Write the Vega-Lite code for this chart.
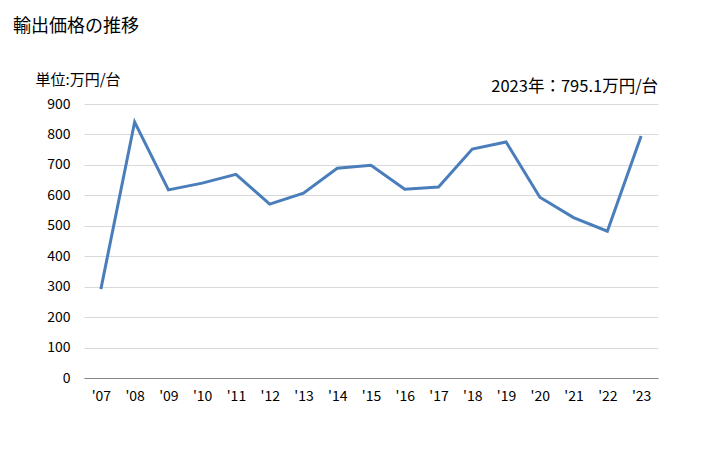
{
  "$schema": "https://vega.github.io/schema/vega-lite/v6.json",
  "autosize": {"type": "none"},
  "width": 574,
  "height": 274,
  "padding": {"left": 84, "top": 104, "right": 70, "bottom": 72},
  "background": "white",
  "config": {
    "font": "Noto Sans CJK JP",
    "view": {"stroke": null}
  },
  "title": {
    "text": "輸出価格の推移",
    "anchor": "start",
    "frame": "group",
    "dx": -71,
    "offset": 36,
    "fontSize": 18,
    "fontWeight": "normal",
    "color": "#000000"
  },
  "datasets": {
    "prices": [
      {"year": "'07", "price": 292},
      {"year": "'08", "price": 841},
      {"year": "'09", "price": 618},
      {"year": "'10", "price": 640},
      {"year": "'11", "price": 669},
      {"year": "'12", "price": 571},
      {"year": "'13", "price": 607},
      {"year": "'14", "price": 689},
      {"year": "'15", "price": 699},
      {"year": "'16", "price": 620},
      {"year": "'17", "price": 627},
      {"year": "'18", "price": 752},
      {"year": "'19", "price": 775},
      {"year": "'20", "price": 594},
      {"year": "'21", "price": 527},
      {"year": "'22", "price": 482},
      {"year": "'23", "price": 795.1}
    ],
    "note": [
      {"year": "'23", "price": 900, "label": "2023年：795.1万円/台"}
    ]
  },
  "encoding": {
    "x": {
      "field": "year",
      "type": "ordinal",
      "sort": null,
      "scale": {"type": "point", "padding": 0.5},
      "axis": {
        "title": null,
        "labelAngle": 0,
        "ticks": false,
        "domainColor": "#868686",
        "domainWidth": 1,
        "labelPadding": 11,
        "labelFontSize": 14,
        "labelColor": "#000000",
        "grid": false
      }
    },
    "y": {
      "field": "price",
      "type": "quantitative",
      "scale": {"domain": [0, 900], "nice": false},
      "axis": {
        "values": [0, 100, 200, 300, 400, 500, 600, 700, 800, 900],
        "tickCount": 10,
        "labelOverlap": false,
        "title": "単位:万円/台",
        "titleAngle": 0,
        "titleAlign": "left",
        "titleBaseline": "middle",
        "titleX": -49,
        "titleY": -25,
        "titleFontSize": 15,
        "titleFontWeight": "normal",
        "titleColor": "#000000",
        "domain": false,
        "ticks": false,
        "labelPadding": 14,
        "labelFontSize": 14,
        "labelColor": "#000000",
        "gridColor": "#d9d9d9",
        "gridWidth": 1
      }
    }
  },
  "layer": [
    {
      "data": {"name": "prices"},
      "mark": {"type": "line", "color": "#4a7ebb", "strokeWidth": 3}
    },
    {
      "data": {"name": "note"},
      "mark": {"type": "text", "align": "right", "baseline": "middle", "dx": 17, "dy": -17, "fontSize": 16.5, "color": "#000000"},
      "encoding": {
        "text": {"field": "label"}
      }
    }
  ]
}
